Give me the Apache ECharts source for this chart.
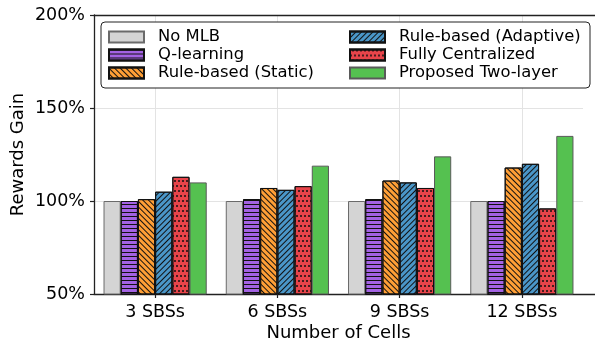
<!DOCTYPE html>
<html>
<head>
<meta charset="utf-8">
<script src="https://cdn.jsdelivr.net/npm/echarts@6/dist/echarts.min.js"></script>
<style>
  html, body { margin: 0; padding: 0; background: #fff; }
  #chart { width: 595px; height: 344px; }
</style>
</head>
<body>
<div id="chart"></div>
<script>
// Reward gain (%) per network size for each mobility load balancing scheme
const categories = ['3 SBSs', '6 SBSs', '9 SBSs', '12 SBSs'];
const seriesNames = ['No MLB', 'Q-learning', 'Rule-based (Static)',
                     'Rule-based (Adaptive)', 'Fully Centralized', 'Proposed Two-layer'];
const noMlb      = [100, 100, 100, 100];
const qLearning  = [100, 101, 101, 100];
const ruleStatic = [101, 107, 111, 118];
const ruleAdapt  = [105, 106, 110, 120];
const fullyCent  = [113, 108, 107, 96];
const twoLayer   = [110, 119, 124, 135];
const yTicks = [50, 100, 150, 200];

const FONT = 'DejaVu Sans';

// hatch patterns drawn as decals
const hatchH = { symbol: 'rect', symbolSize: 1, symbolKeepAspect: false,
                 dashArrayX: [1, 0], dashArrayY: [1, 3], color: '#111', rotation: 0 };
const hatchBack = { symbol: 'rect', symbolSize: 1, symbolKeepAspect: false,
                    dashArrayX: [1, 0], dashArrayY: [1, 3], color: '#111', rotation: Math.PI / 4 };
const hatchFwd = { symbol: 'rect', symbolSize: 1, symbolKeepAspect: false,
                   dashArrayX: [1, 0], dashArrayY: [1, 3], color: '#111', rotation: -Math.PI / 4 };
const hatchDot = { symbol: 'circle', symbolSize: 1, symbolKeepAspect: true,
                   dashArrayX: [[2, 2], [0, 2, 2, 0]], dashArrayY: [2, 3], color: '#111', rotation: 0 };

const styles = [
  { color: '#d4d4d4', borderColor: '#6a6a6a', decal: null },
  { color: '#a362e3', borderColor: '#111', decal: hatchH },
  { color: '#ff9f36', borderColor: '#111', decal: hatchBack },
  { color: '#4a96c8', borderColor: '#111', decal: hatchFwd },
  { color: '#e8444a', borderColor: '#111', decal: hatchDot },
  { color: '#55c150', borderColor: '#5a5a5a', decal: null }
];
const values = [noMlb, qLearning, ruleStatic, ruleAdapt, fullyCent, twoLayer];

// half-band positions used only to place vertical grid lines at the group centres
const halfSteps = Array.from({ length: categories.length * 2 + 1 }, (_, i) => String(i));

const series = values.map((vals, i) => ({
  name: seriesNames[i],
  type: 'bar',
  xAxisIndex: 0,
  yAxisIndex: 0,
  barWidth: 17.2,
  barGap: '0%',
  data: vals,
  itemStyle: Object.assign({ borderWidth: 1 }, styles[i].decal ? { decal: styles[i].decal } : {},
                           { color: styles[i].color, borderColor: styles[i].borderColor })
}));

const spineLine = { show: true, lineStyle: { color: '#222', width: 1.3 } };

const chart = echarts.init(document.getElementById('chart'), null, { renderer: 'canvas' });
chart.setOption({
  animation: false,
  aria: { enabled: false, decal: { show: false } },
  textStyle: { fontFamily: FONT, color: '#000' },
  grid: [
    { left: 94, right: 12, top: 15, bottom: 50, containLabel: false, outerBoundsMode: 'none' },
    { left: 94, right: 0, top: 15, bottom: 50, containLabel: false, outerBoundsMode: 'none' }
  ],
  legend: {
    orient: 'vertical',
    left: 101,
    top: 22,
    height: 54,
    itemWidth: 35,
    itemHeight: 11,
    itemGap: 2,
    padding: [7, 2, 7, 7],
    backgroundColor: '#fff',
    borderColor: '#222',
    borderWidth: 1,
    borderRadius: 4,
    icon: 'rect',
    data: seriesNames,
    textStyle: { fontFamily: FONT, fontSize: 16.4, color: '#000', lineHeight: 16,
                 width: 189, padding: [0, 0, 0, 9] },
    z: 10
  },
  xAxis: [
    {
      type: 'category',
      gridIndex: 0,
      data: categories,
      name: 'Number of Cells',
      nameLocation: 'middle',
      nameGap: 30.5,
      nameMoveOverlap: false,
      nameTextStyle: { fontFamily: FONT, fontSize: 18, color: '#000' },
      axisLine: { show: false },
      axisTick: { show: true, alignWithLabel: true, length: 4, lineStyle: { color: '#222', width: 1.2 } },
      axisLabel: { fontFamily: FONT, fontSize: 17.5, color: '#000', margin: 9 },
      splitLine: { show: false }
    },
    {
      // vertical grid lines through the category centres
      type: 'category',
      gridIndex: 0,
      data: halfSteps,
      boundaryGap: false,
      position: 'bottom',
      offset: 0,
      axisLine: { show: false },
      axisTick: { show: false },
      axisLabel: { show: false },
      splitLine: { show: true, interval: idx => idx % 2 === 1,
                   lineStyle: { color: '#e3e3e3', width: 1 } }
    },
    { type: 'value', gridIndex: 1, position: 'bottom', min: 0, max: 1,
      axisLine: spineLine, axisTick: { show: false }, axisLabel: { show: false }, splitLine: { show: false } },
    { type: 'value', gridIndex: 1, position: 'top', min: 0, max: 1,
      axisLine: spineLine, axisTick: { show: false }, axisLabel: { show: false }, splitLine: { show: false } }
  ],
  yAxis: [
    {
      type: 'value',
      gridIndex: 0,
      min: 50,
      max: 200,
      interval: 50,
      name: 'Rewards Gain',
      nameLocation: 'middle',
      nameGap: 67,
      nameMoveOverlap: false,
      nameTextStyle: { fontFamily: FONT, fontSize: 18, color: '#000' },
      axisLine: spineLine,
      axisTick: { show: true, length: 4, lineStyle: { color: '#222', width: 1.2 } },
      axisLabel: {
        fontFamily: FONT, fontSize: 17.5, color: '#000', margin: 9,
        formatter: v => (yTicks.indexOf(v) >= 0 ? v + '%' : '')
      },
      splitLine: { show: true, lineStyle: { color: '#e3e3e3', width: 1 } }
    },
    { type: 'value', gridIndex: 1, show: false, min: 0, max: 1 }
  ],
  series: series
});
</script>
</body>
</html>
